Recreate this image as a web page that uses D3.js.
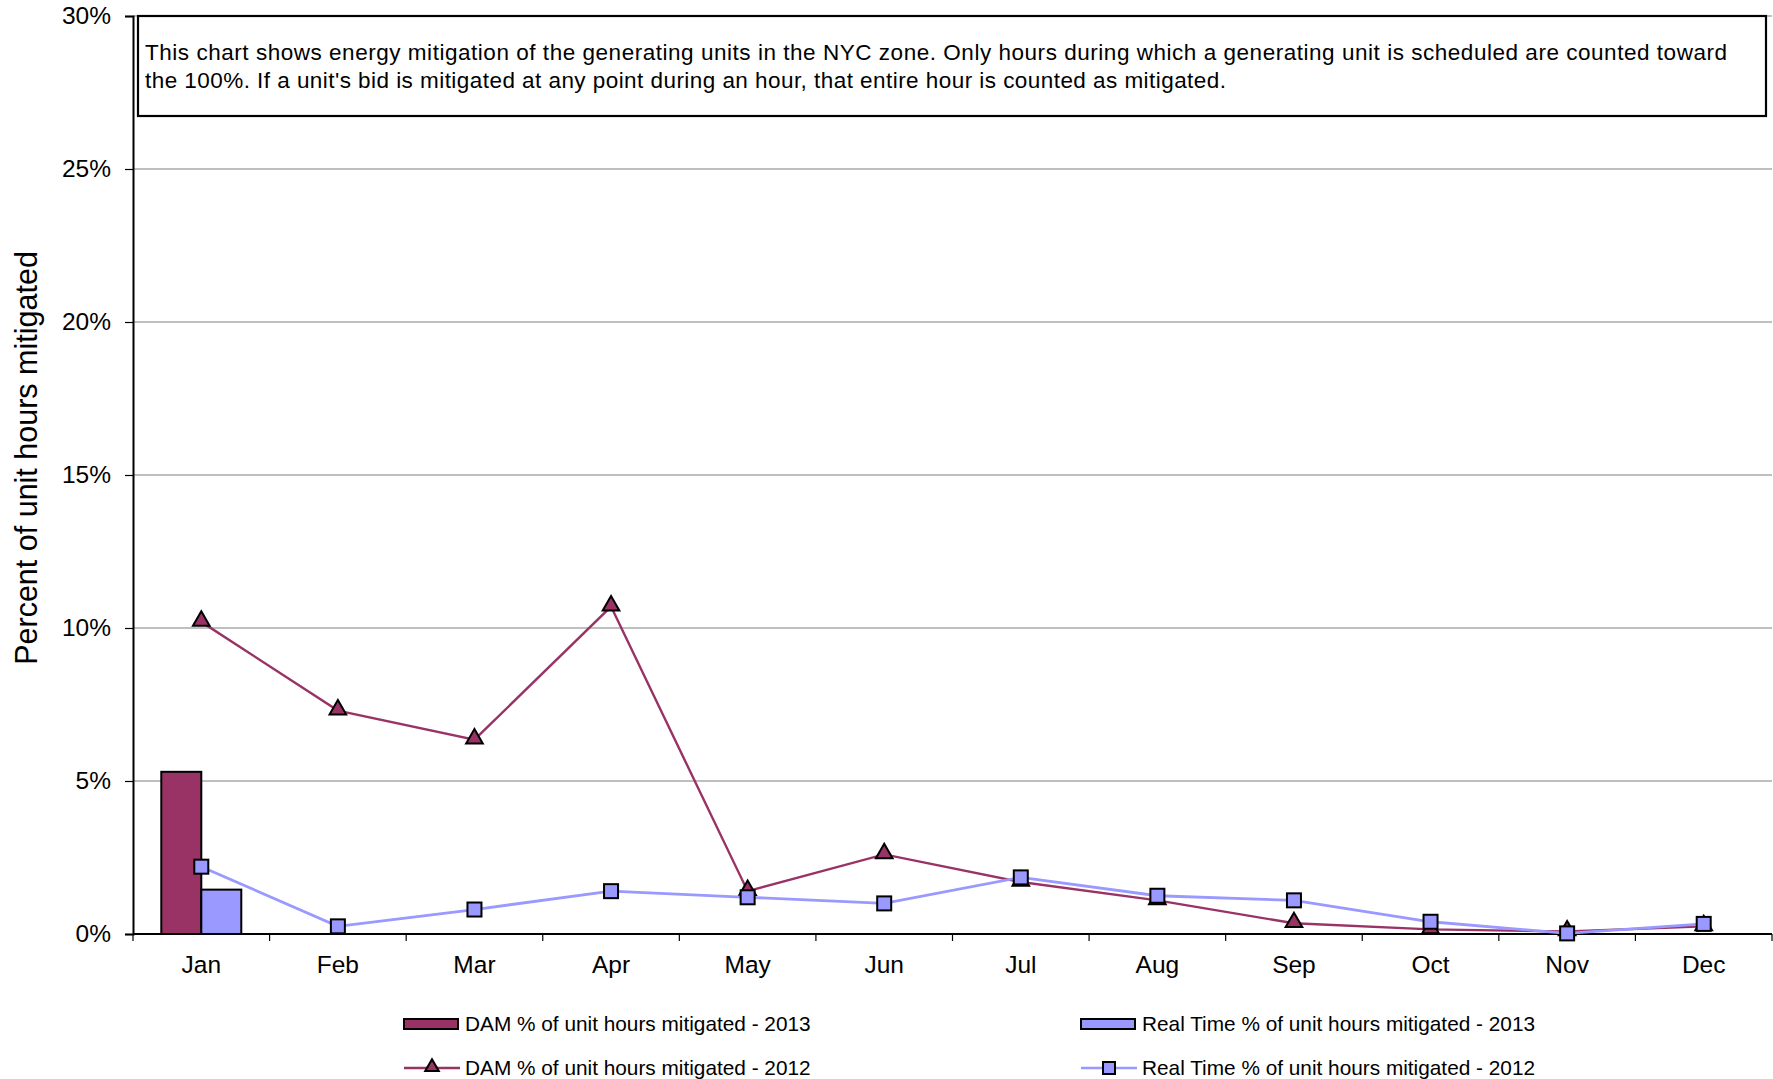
<!DOCTYPE html>
<html lang="en">
<head>
  <title>NYC zone energy mitigation</title>
  <script src="https://d3js.org/d3.v7.min.js"></script>
  <style>
    body { margin: 0; background: #ffffff; }
    text { font-family: "Liberation Sans", Arial, sans-serif; fill: #000000; }
  </style>
</head>
<body>
  <script>
    /* chart values (percent of unit hours mitigated) */
    var months = ["Jan", "Feb", "Mar", "Apr", "May", "Jun", "Jul", "Aug", "Sep", "Oct", "Nov", "Dec"];
    var dam2013 = [5.3];          /* only January reported for 2013 */
    var rt2013 = [1.45];
    var dam2012 = [10.2, 7.3, 6.35, 10.7, 1.4, 2.6, 1.7, 1.1, 0.35, 0.15, 0.08, 0.25];
    var rt2012 = [2.2, 0.25, 0.8, 1.4, 1.2, 1.0, 1.85, 1.25, 1.1, 0.4, 0.02, 0.33];
    var yTicks = [0, 5, 10, 15, 20, 25, 30];
    var noteLines = [
      "This chart shows energy mitigation of the generating units in the NYC zone.  Only hours during which a generating unit is scheduled are counted toward",
      "the 100%. If a unit's bid is mitigated at any point during an hour, that entire hour is counted as mitigated."
    ];
    var legendNames = [
      "DAM % of unit hours mitigated - 2013",
      "Real Time % of unit hours mitigated - 2013",
      "DAM % of unit hours mitigated - 2012",
      "Real Time % of unit hours mitigated - 2012"
    ];

    var damColor = "#993366";
    var rtColor = "#9999ff";

    var width = 1773, height = 1079;
    /* plot area edges (note: "top" is taken by window.top) */
    var pLeft = 133, pRight = 1772, pTop = 16, pBottom = 934;

    var svg = d3.select("body")
        .append("svg")
        .attr("width", width)
        .attr("height", height);

    var x = d3.scaleBand()
        .domain(months)
        .range([pLeft, pRight]);

    /* two bars side by side in the middle of each month */
    var xBar = d3.scaleBand()
        .domain(["dam", "rt"])
        .range([0, x.bandwidth()])
        .paddingOuter(0.7075);

    var y = d3.scaleLinear()
        .domain([0, 30])
        .range([pBottom, pTop]);

    /* gridlines */
    svg.append("g")
        .selectAll("line")
        .data(yTicks.filter(function(d) { return d > 0; }))
        .enter()
        .append("line")
        .attr("x1", pLeft)
        .attr("x2", pRight)
        .attr("y1", function(d) { return y(d); })
        .attr("y2", function(d) { return y(d); })
        .attr("stroke", "#808080")
        .attr("stroke-width", 1.2);

    /* y axis */
    var yAxis = svg.append("g")
        .attr("transform", "translate(" + pLeft + ",0)")
        .call(d3.axisLeft(y).tickValues(yTicks).tickSize(8).tickPadding(14)
          .tickFormat(function(d) { return d + "%"; }));
    yAxis.select(".domain").attr("stroke", "#000").attr("stroke-width", 2);
    yAxis.selectAll(".tick line").attr("stroke", "#000").attr("stroke-width", 1.2);
    yAxis.selectAll(".tick text")
        .attr("font-size", 24.5)
        .attr("font-family", "Liberation Sans, Arial, sans-serif")
        .attr("fill", "#000");

    svg.append("text")
        .attr("transform", "translate(37,458) rotate(-90)")
        .attr("text-anchor", "middle")
        .attr("font-size", 30.5)
        .text("Percent of unit hours mitigated");

    /* bars for 2013 */
    var bars = svg.append("g");
    bars.selectAll(".dam")
        .data(dam2013)
        .enter()
        .append("rect")
        .attr("x", function(d, i) { return x(months[i]) + xBar("dam"); })
        .attr("y", function(d) { return y(d); })
        .attr("width", xBar.bandwidth())
        .attr("height", function(d) { return y(0) - y(d); })
        .attr("fill", damColor)
        .attr("stroke", "#000")
        .attr("stroke-width", 2);
    bars.selectAll(".rt")
        .data(rt2013)
        .enter()
        .append("rect")
        .attr("x", function(d, i) { return x(months[i]) + xBar("rt"); })
        .attr("y", function(d) { return y(d); })
        .attr("width", xBar.bandwidth())
        .attr("height", function(d) { return y(0) - y(d); })
        .attr("fill", rtColor)
        .attr("stroke", "#000")
        .attr("stroke-width", 2);

    /* x axis */
    var xAxis = svg.append("g")
        .attr("transform", "translate(0," + pBottom + ")");
    xAxis.append("line")
        .attr("x1", pLeft)
        .attr("x2", pRight)
        .attr("stroke", "#000")
        .attr("stroke-width", 2);
    xAxis.selectAll(".tk")
        .data(months.concat(["end"]))
        .enter()
        .append("line")
        .attr("x1", function(d, i) { return i < months.length ? x(d) : pRight; })
        .attr("x2", function(d, i) { return i < months.length ? x(d) : pRight; })
        .attr("y1", 0)
        .attr("y2", 7)
        .attr("stroke", "#000")
        .attr("stroke-width", 1.2);
    xAxis.selectAll("text")
        .data(months)
        .enter()
        .append("text")
        .attr("x", function(d) { return x(d) + x.bandwidth() / 2; })
        .attr("y", 39)
        .attr("text-anchor", "middle")
        .attr("font-size", 24.5)
        .text(function(d) { return d; });

    /* lines for 2012 */
    var cx = function(d, i) { return x(months[i]) + x.bandwidth() / 2; };
    var line = d3.line()
        .x(cx)
        .y(function(d) { return y(d); });

    svg.append("path")
        .datum(dam2012)
        .attr("d", line)
        .attr("fill", "none")
        .attr("stroke", damColor)
        .attr("stroke-width", 2.4);
    var tri = d3.symbol().type(d3.symbolTriangle).size(120);
    svg.append("g")
        .selectAll("path")
        .data(dam2012)
        .enter()
        .append("path")
        .attr("d", tri)
        .attr("transform", function(d, i) { return "translate(" + cx(d, i) + "," + (y(d) - 1) + ")"; })
        .attr("fill", damColor)
        .attr("stroke", "#000")
        .attr("stroke-width", 2);

    svg.append("path")
        .datum(rt2012)
        .attr("d", line)
        .attr("fill", "none")
        .attr("stroke", rtColor)
        .attr("stroke-width", 2.8);
    svg.append("g")
        .selectAll("rect")
        .data(rt2012)
        .enter()
        .append("rect")
        .attr("x", function(d, i) { return cx(d, i) - 7; })
        .attr("y", function(d) { return y(d) - 7; })
        .attr("width", 14)
        .attr("height", 14)
        .attr("fill", rtColor)
        .attr("stroke", "#000")
        .attr("stroke-width", 2);

    /* note box at the top */
    svg.append("rect")
        .attr("x", 138)
        .attr("y", 16)
        .attr("width", 1628)
        .attr("height", 100)
        .attr("fill", "#fff")
        .attr("stroke", "#000")
        .attr("stroke-width", 2.2);
    svg.append("g")
        .selectAll("text")
        .data(noteLines)
        .enter()
        .append("text")
        .attr("x", 145)
        .attr("y", function(d, i) { return 60 + i * 28; })
        .attr("font-size", 22.5)
        .attr("textLength", function(d, i) { return i == 0 ? 1582 : 1081; })
        .attr("lengthAdjust", "spacing")
        .text(function(d) { return d; });

    /* legend: 2 columns, 2 rows */
    var legX = [404, 1081];
    var legY = [1024, 1068];
    var legend = svg.append("g");
    legendNames.forEach(function(name, i) {
      var lx = legX[i % 2], ly = legY[Math.floor(i / 2)];
      var col = (i % 2 == 0) ? damColor : rtColor;
      if (i < 2) {
        legend.append("rect")
            .attr("x", lx).attr("y", ly - 5)
            .attr("width", 54).attr("height", 10)
            .attr("fill", col).attr("stroke", "#000").attr("stroke-width", 2);
      } else {
        legend.append("line")
            .attr("x1", lx).attr("x2", lx + 56)
            .attr("y1", ly).attr("y2", ly)
            .attr("stroke", col).attr("stroke-width", 2.5);
        if (i == 2) {
          legend.append("path")
              .attr("d", d3.symbol().type(d3.symbolTriangle).size(80))
              .attr("transform", "translate(" + (lx + 28) + "," + (ly - 1) + ")")
              .attr("fill", col).attr("stroke", "#000").attr("stroke-width", 2);
        } else {
          legend.append("rect")
              .attr("x", lx + 22).attr("y", ly - 6)
              .attr("width", 12).attr("height", 12)
              .attr("fill", col).attr("stroke", "#000").attr("stroke-width", 2);
        }
      }
      legend.append("text")
          .attr("x", lx + 61)
          .attr("y", ly + 7)
          .attr("font-size", 20.8)
          .text(name);
    });
  </script>
</body>
</html>
